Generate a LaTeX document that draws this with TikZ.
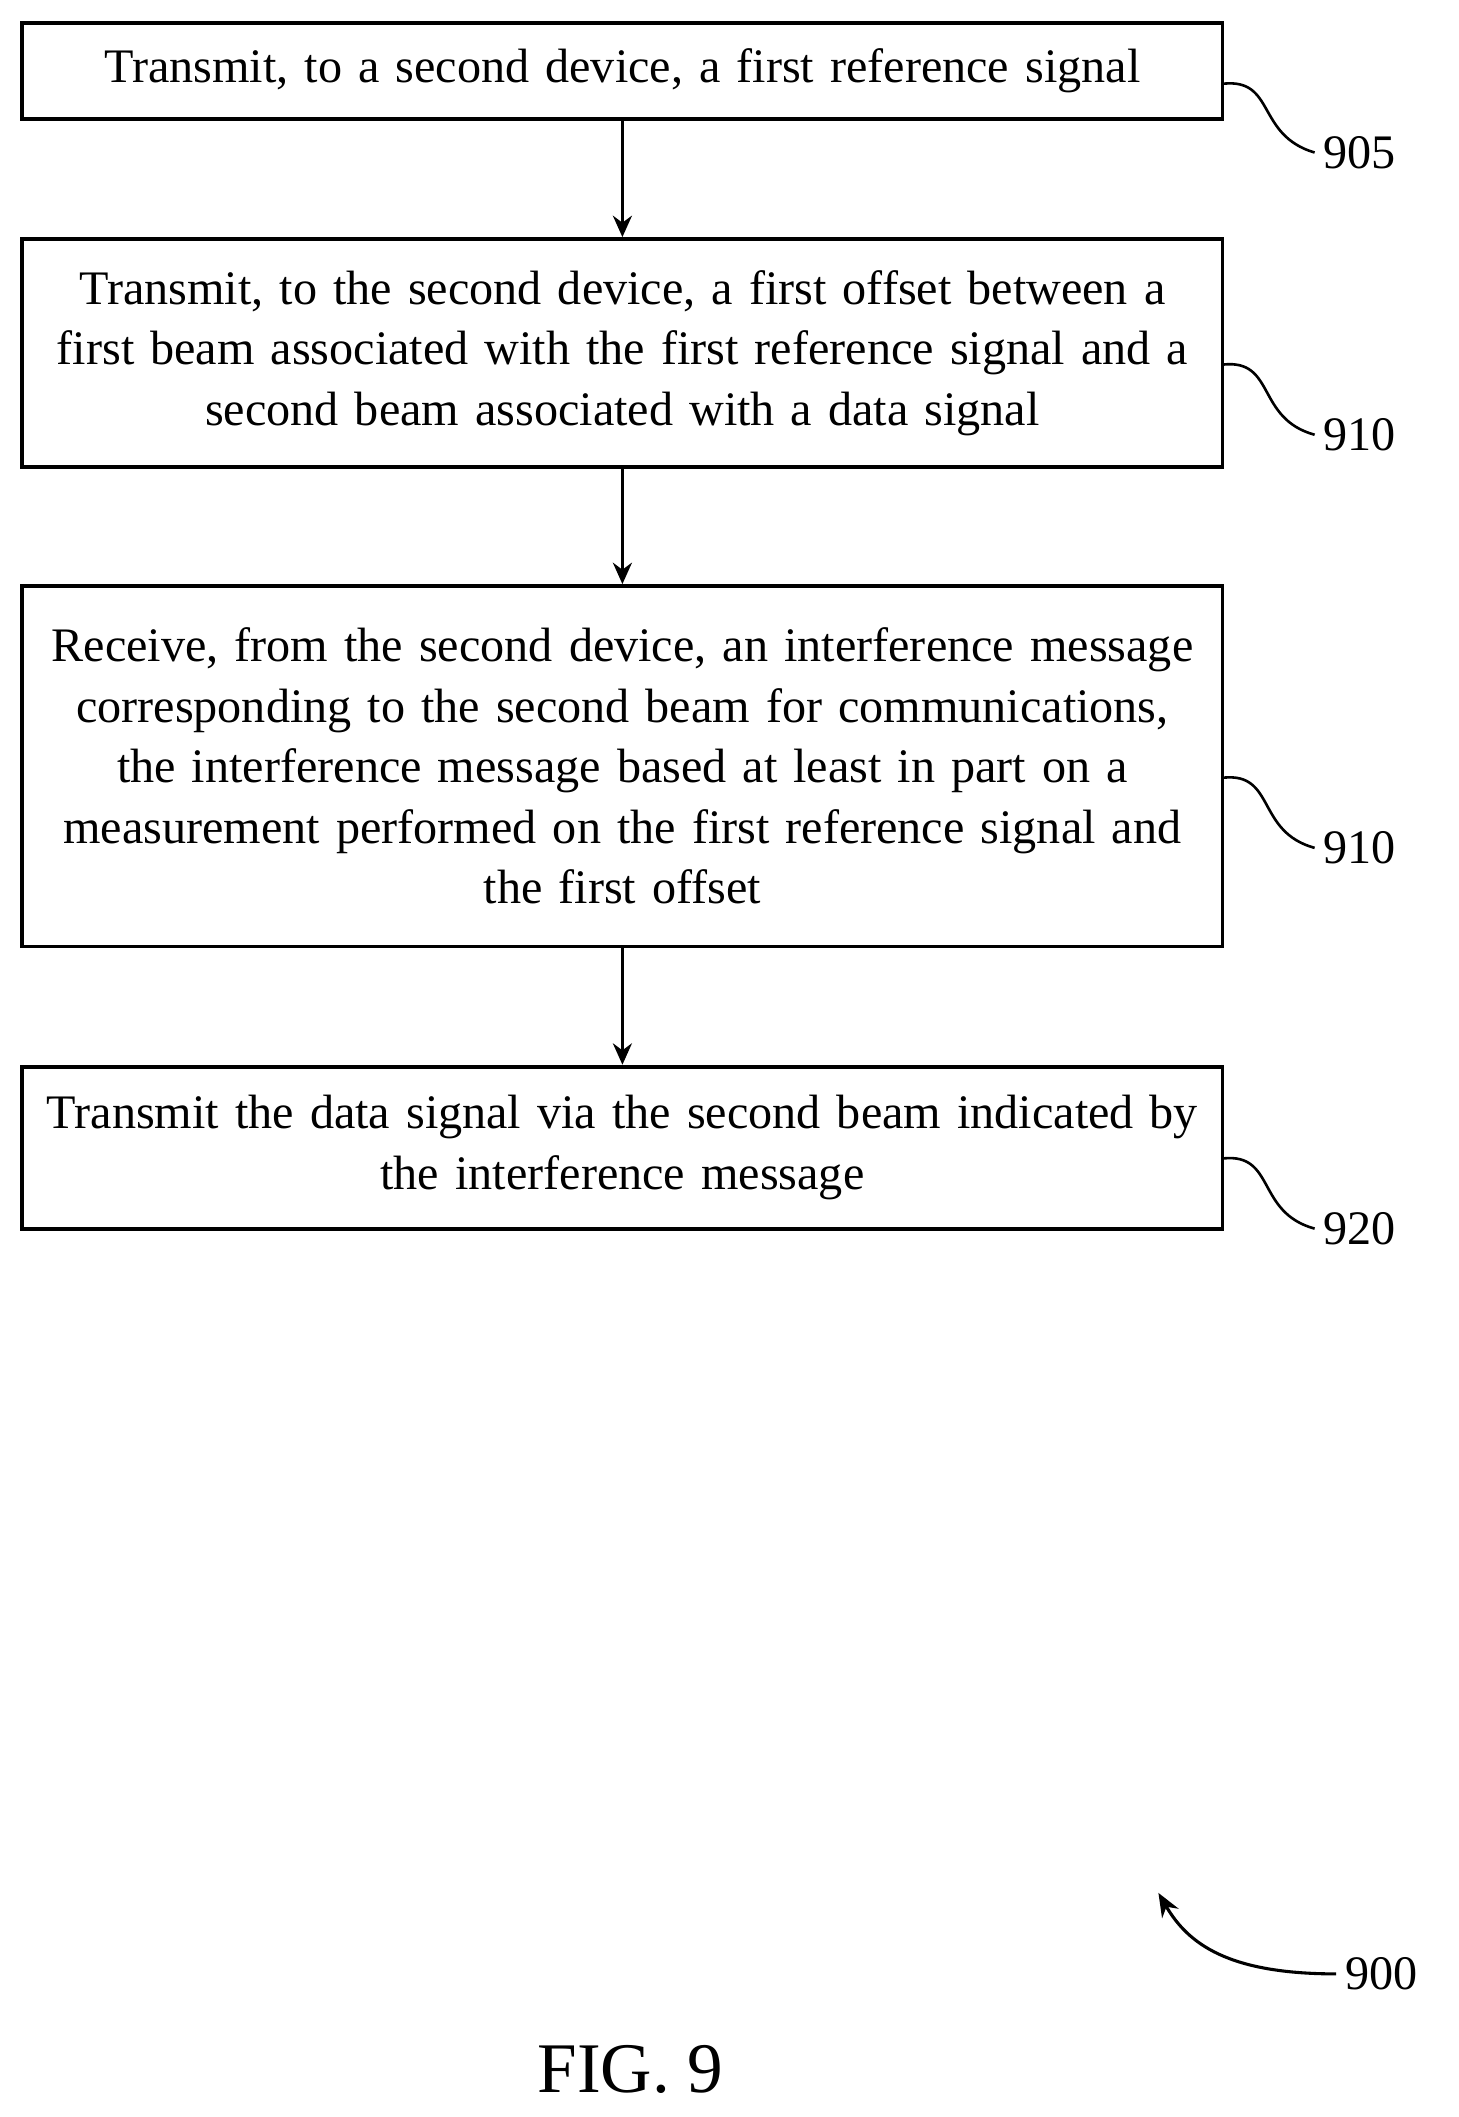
\documentclass[tikz,border=0pt]{standalone}
\usepackage{fontspec}
\setmainfont{Liberation Serif}
\usetikzlibrary{arrows.meta}
\begin{document}
\begin{tikzpicture}[x=0.02cm,y=-0.02cm,thick]

\tikzset{stepbox/.style={draw,line width=1.6pt,minimum width=17.78cm,text width=17.6cm,align=center,inner sep=0pt,font=\fontsize{20.3}{25.5}\selectfont},
flow/.style={line width=1.3pt,-{Stealth[length=9pt,width=8pt]}},
tag/.style={font=\fontsize{20.3}{22}\selectfont},
squig/.style={line width=1.1pt}}

\useasboundingbox (0,0) rectangle (1080,1568);

\node[stepbox,minimum height=1.42cm] (s905) at (461,52.5) {Transmit, to a second device, a first reference signal};
\node[stepbox,minimum height=3.38cm] (s910) at (461,261.5) {Transmit, to the second device, a first offset between a\\ first beam associated with the first reference signal and a\\ second beam associated with a data signal};
\node[stepbox,minimum height=5.34cm] (s915) at (461,567.5) {Receive, from the second device, an interference message\\ corresponding to the second beam for communications,\\ the interference message based at least in part on a\\ measurement performed on the first reference signal and\\ the first offset};
\node[stepbox,minimum height=2.4cm] (s920) at (461,850) {Transmit the data signal via the second beam indicated by\\ the interference message};

\draw[flow] (s905) -- (s910);
\draw[flow] (s910) -- (s915);
\draw[flow] (s915) -- (s920);

\node[tag] (t905) at (1007,113) {905};
\node[tag] (t910) at (1007,322) {910};
\node[tag] (t915) at (1007,628) {910};
\node[tag] (t920) at (1007,910) {920};

\draw[squig] (906,62) .. controls (945,58) and (930,100) .. (t905.west);
\draw[squig] (906,270) .. controls (945,266) and (930,310) .. (t910.west);
\draw[squig] (906,576) .. controls (945,572) and (930,616) .. (t915.west);
\draw[squig] (906,858) .. controls (945,854) and (930,898) .. (t920.west);

\node[tag] (t900) at (1023,1462) {900};
\coordinate (a900) at (858,1402);
\draw[line width=1.3pt,-{Stealth[length=10pt,width=8pt]}] (t900.west) .. controls (910,1462) and (880,1440) .. (a900);

\node[font=\fontsize{30}{34}\selectfont] (fig) at (467,1533) {FIG. 9};

\end{tikzpicture}
\end{document}
